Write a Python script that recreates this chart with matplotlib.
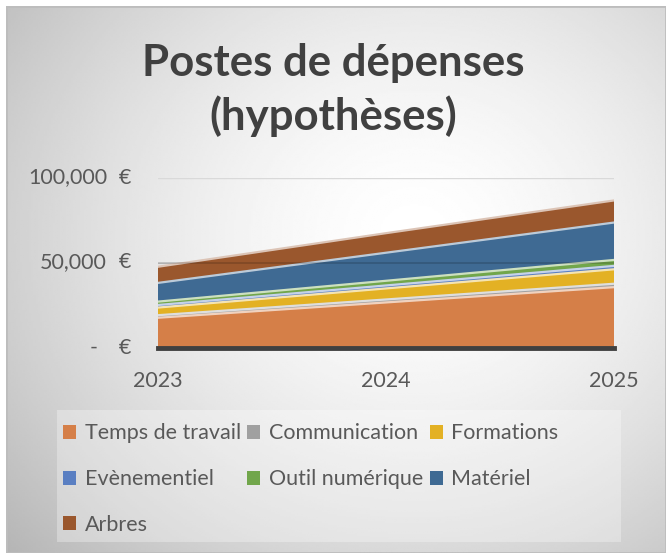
import numpy as np
import matplotlib
matplotlib.use("Agg")
import matplotlib.pyplot as plt
from matplotlib.patches import Patch, Rectangle
from matplotlib import transforms

plt.rcParams['font.family'] = ['Lato', 'DejaVu Sans']

# data
years = [2023, 2024, 2025]
series_names = ['Temps de travail', 'Communication', 'Formations',
                'Evènementiel', 'Outil numérique', 'Matériel', 'Arbres']
temps_travail = [17500, 26500, 35500]
communication = [1500, 1750, 2000]
formations = [4500, 6500, 8500]
evenementiel = [1500, 1750, 2000]
outil_numerique = [2000, 2750, 3500]
materiel = [11000, 16500, 22000]
arbres = [9500, 11500, 13000]
y_ticks = [0, 50000, 100000]

colors = ['#D57F48', '#A0A0A0', '#E3B124', '#5A7FC2', '#71A64B', '#3F6A93', '#9A572D']
text_col = '#595959'

W, H = 666, 553
fig = plt.figure(figsize=(W / 100, H / 100), dpi=100, facecolor='white')

# background: soft radial grey gradient, small white margin top/left
bg = fig.add_axes([6 / W, 0, 1 - 6 / W, 1 - 6 / H])
gx, gy = np.meshgrid(np.linspace(0, 1, 300), np.linspace(0, 1, 300))
r = np.sqrt(((gx - 0.62) / 0.75) ** 2 + ((gy - 0.42) / 0.8) ** 2)
bg.imshow(1 - 0.25 * np.clip(r, 0, 1.2) ** 1.6, cmap='gray', vmin=0, vmax=1,
          extent=[0, 1, 0, 1], aspect='auto', interpolation='bilinear')
bg.add_patch(Rectangle((0, 0), 1, 1, transform=bg.transAxes, fill=False,
                       edgecolor='#BDBDBD', lw=2))
bg.set_axis_off()

# legend background panel
fig.patches.append(Rectangle((57 / W, 1 - 542 / H), (621 - 57) / W, (542 - 410) / H,
                             transform=fig.transFigure, facecolor='white',
                             alpha=0.3, edgecolor='none', zorder=1))

ax = fig.add_axes([158 / W, 1 - 347.5 / H, (614 - 158) / W, 170 / H])
ax.patch.set_alpha(0)

vals = [temps_travail, communication, formations, evenementiel,
        outil_numerique, materiel, arbres]
ax.axhline(50000, color='#D0D0D0', lw=1, zorder=0)
ax.axhline(100000, color='#D9D9D9', lw=1, zorder=0)
ax.stackplot(years, *vals, colors=colors, zorder=2)
cum = np.cumsum(np.array(vals), axis=0)
for c, top in zip(colors, cum):
    rgb = np.array(matplotlib.colors.to_rgb(c))
    light = 0.35 * rgb + 0.65
    ax.plot(years, top, color=light, lw=1.6, zorder=3)
ax.axhline(50000, color='black', alpha=0.18, lw=1.2, zorder=4)
ax.axhline(0, color='#404040', lw=3.5, zorder=5, clip_on=False)

ax.set_xlim(years[0], years[-1])
ax.set_ylim(0, 100000)
for s in ax.spines.values():
    s.set_visible(False)
ax.set_xticks(years)
ax.set_xticklabels([str(y) for y in years])
ax.tick_params(axis='x', length=0, pad=17, labelsize=15.5, labelcolor=text_col)
ax.set_yticks([])

# accounting-style y labels
tr = transforms.blended_transform_factory(fig.transFigure, ax.transData)
for v in y_ticks:
    if v == 0:
        ax.text(93.5 / W, v, '-', transform=tr, ha='center', va='center',
                fontsize=15.5, color=text_col)
    else:
        ax.text(107 / W, v, f'{v:,}', transform=tr, ha='right', va='center',
                fontsize=15.5, color=text_col)
    ax.text(119 / W, v, '€', transform=tr, ha='left', va='center',
            fontsize=15.5, color=text_col)

fig.text(0.5, 1 - 90 / H, 'Postes de dépenses\n(hypothèses)', ha='center',
         va='center', fontsize=31.5, fontweight='bold', color='#404040',
         linespacing=1.35)

# legend filled row by row like the original (matplotlib fills by column)
order = [0, 3, 6, 1, 4, 2, 5]
handles = [Patch(facecolor=colors[i], edgecolor='none') for i in order]
labels = [series_names[i] for i in order]
leg = fig.legend(handles, labels, loc='upper left',
                 bbox_to_anchor=(59 / W, 1 - 419 / H), ncol=3, frameon=False,
                 fontsize=15.5, labelcolor=text_col, handlelength=0.6,
                 handleheight=0.62, handletextpad=0.4, columnspacing=0.3,
                 labelspacing=1.2, borderaxespad=0, borderpad=0.2)

fig.savefig('out.png', dpi=100)
